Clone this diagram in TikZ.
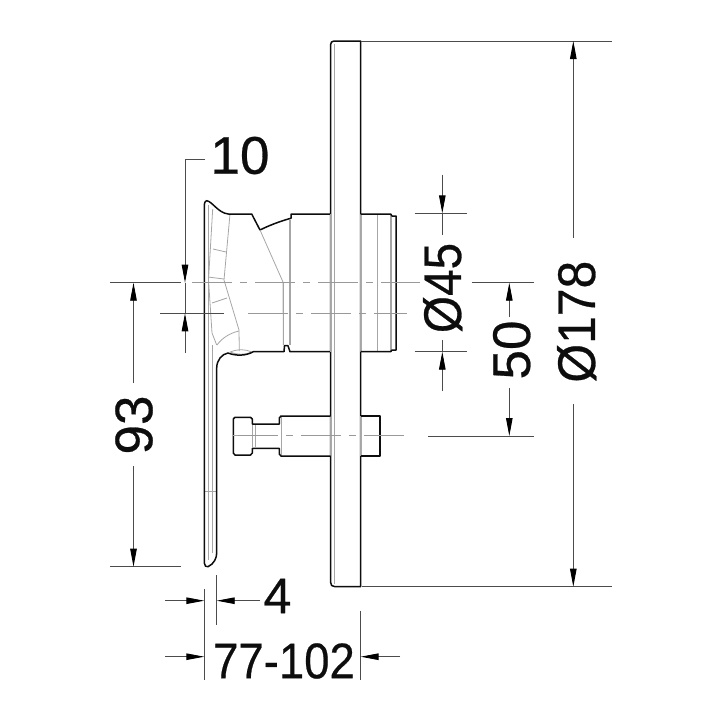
\documentclass[tikz,border=0pt]{standalone}
\usepackage{fontspec}
\setmainfont{Liberation Sans}
\newfontfamily\dimfont{Liberation Sans}[FakeBold=0.5]
\usetikzlibrary{arrows.meta}
\tikzset{
	outline/.style={line width=1.5pt, color=black!95, line join=round},
	inner/.style={line width=0.8pt, color=black!35},
	innerthick/.style={line width=1.6pt, color=black!35},
	axis/.style={line width=0.9pt, color=black!40, dash pattern=on 40pt off 8pt on 7pt off 8pt},
	extline/.style={line width=0.9pt, color=black!70},
	dimarrow/.style={line width=0.9pt, color=black!70, -{Stealth[length=18pt,width=6.5pt,inset=0pt,color=black]}},
	dimtext/.style={font=\dimfont\fontsize{53}{53}\selectfont, color=black!95, inner sep=0pt},
}
\begin{document}
\begin{tikzpicture}[x=1pt, y=-1pt]
		%%%%% START %%%%%
		\useasboundingbox (0, 0) rectangle (720, 720);
		
		% wall plate
		\draw[outline] (334, 41) -- (360.6, 41) -- (360.6, 586.7) -- (335, 586.7) .. controls (332, 586.7) and (330.5, 585) .. (330.5, 582) -- (330.5, 45) .. controls (330.5, 42.5) and (332, 41) .. cycle;
		\draw[inner] (334.5, 44) -- (334.5, 584);
		
		% handle
		\draw[inner] (208.3, 205) -- (208.3, 560);
		\draw[inner] (212.7, 209) -- (208.5, 280) -- (212, 333) -- (216.7, 345);
		\draw[inner] (212.7, 345) -- (212.7, 553);
		\draw[inner] (230, 214) -- (224, 280) -- (239, 330) -- (239.3, 351);
		\draw[inner] (213, 249) -- (226, 252);
		\draw[inner] (208, 277) -- (224, 279);
		\draw[inner] (212, 303) -- (227, 298);
		\draw[inner] (217, 345) .. controls (222, 338) and (230, 333) .. (239, 331);
		\draw[inner] (204.3, 491) -- (216.7, 491);
		\draw[inner] (230, 352) .. controls (238, 349) and (245, 349) .. (252, 352) .. controls (245, 355) and (237, 355) .. (230, 352);
		\draw[outline] (216.7, 553) -- (216.7, 368) .. controls (216.7, 360) and (222, 354) .. (228, 353) .. controls (236, 356) and (246, 356) .. (253.3, 351.7) -- (284, 351.7) -- (284.5, 345.7) -- (288, 345.7) -- (290, 351.7) -- (330.5, 351.7);
		\draw[outline] (330.5, 214) -- (291, 214) -- (291, 218.3) -- (288.3, 219) .. controls (278, 222) and (268, 226) .. (260, 230) -- (251.7, 214) -- (228.3, 214) .. controls (218, 213) and (212, 201) .. (206.5, 200.7) .. controls (205, 201) and (204.3, 203) .. (204.3, 205) -- (204.3, 563) .. controls (204.5, 566) and (206, 567) .. (208, 566.7) .. controls (214, 564) and (216.7, 558) .. (216.7, 553);
		
		% body
		\draw[inner] (260, 230) -- (283, 282) -- (283.3, 345);
		\draw[innerthick] (290, 220) -- (290, 345);
		\draw[innerthick] (283.3, 282) -- (283.3, 345);
		\draw[inner] (330.5, 214) -- (330.5, 351.7);
		\draw[inner] (334.5, 214) -- (334.5, 351.7);
		\draw[inner] (360.6, 214) -- (360.6, 351.7);
		\draw[inner] (377.3, 214) -- (377.3, 351.7);
		\draw[innerthick] (390.7, 214) -- (390.7, 351.7);
		\draw[outline] (360.6, 214) -- (390.7, 214) -- (392, 216) -- (396, 216) -- (396, 350) -- (392, 350) -- (390.7, 351.7) -- (360.6, 351.7);
		
		% stud
		\draw[innerthick] (252.5, 425) -- (252.5, 447);
		\draw[inner] (255, 425) -- (255, 447);
		\draw[inner] (281.7, 417) -- (281.7, 455);
		\draw[inner] (330.5, 416) -- (330.5, 456);
		\draw[inner] (334.5, 416) -- (334.5, 456);
		\draw[inner] (360.6, 416) -- (360.6, 456);
		\draw[outline] (330.5, 416) -- (281, 416) -- (279.3, 418) -- (279.3, 424) -- (252.3, 424) -- (252.3, 419) -- (250.5, 417.3) -- (235, 417.3) -- (233.3, 419) -- (233.3, 453) -- (235, 455) -- (250.5, 455) -- (252.3, 453) -- (252.3, 448.3) -- (279.3, 448.3) -- (279.3, 454) -- (281, 456) -- (330.5, 456);
		\draw[outline] (360.6, 416) -- (380, 416) -- (380, 456) -- (360.6, 456);
		
		% centre lines
		\draw[axis] (192, 282.7) -- (420, 282.7);
		\draw[axis] (248, 313.3) -- (407, 313.3);
		\draw[inner] (233, 435.7) -- (238, 435.7);
		\draw[axis] (238, 435.7) -- (405, 435.7);
		
		% extension lines
		\draw[extline] (110, 282.7) -- (181, 282.7);
		\draw[extline] (160, 313.3) -- (224, 313.3);
		\draw[extline] (110, 566.7) -- (181, 566.7);
		\draw[extline] (360.6, 41) -- (612, 41);
		\draw[extline] (362, 586.7) -- (612, 586.7);
		\draw[extline] (414.7, 213.3) -- (466.7, 213.3);
		\draw[extline] (414.7, 351.7) -- (466.7, 351.7);
		\draw[extline] (471.7, 282.7) -- (534, 282.7);
		\draw[extline] (428, 436) -- (534, 436);
		\draw[extline] (204.3, 589) -- (204.3, 680);
		\draw[extline] (216.7, 575) -- (216.7, 625);
		\draw[extline] (360.6, 610.7) -- (360.6, 680);
		
		% dimension 10
		\draw[dimarrow] (205, 159) -- (185, 159) -- (185, 282.7);
		\draw[extline] (185, 282.7) -- (185, 313.3);
		\draw[dimarrow] (185, 352.7) -- (185, 313.3);
		\node[dimtext] (ten) at (240, 155.5) {10};
		
		% dimension 93
		\draw[dimarrow] (133.5, 383) -- (133.5, 282.7);
		\draw[dimarrow] (133.5, 466) -- (133.5, 566.7);
		\node[dimtext, rotate=90] (ninetythree) at (134, 425) {93};
		
		% dimension 45
		\draw[dimarrow] (442.3, 174.7) -- (442.3, 213.3);
		\draw[extline] (442.3, 213.3) -- (442.3, 235);
		\draw[dimarrow] (442.3, 391) -- (442.3, 351.7);
		\draw[extline] (442.3, 351.7) -- (442.3, 340);
		\node[dimtext, rotate=90] (dia) at (442.7, 288) {\scalebox{.9}[1]{Ø45}};
		
		% dimension 50
		\draw[dimarrow] (509.3, 316.7) -- (509.3, 282.7);
		\draw[dimarrow] (509.3, 388) -- (509.3, 436);
		\node[dimtext, rotate=90] (fifty) at (511.7, 350) {50};
		
		% dimension 178
		\draw[dimarrow] (573.3, 238) -- (573.3, 41);
		\draw[dimarrow] (573.3, 404) -- (573.3, 586.7);
		\node[dimtext, rotate=90] (plate) at (576.7, 321.7) {\scalebox{.94}[1]{Ø178}};
		
		% dimension 4
		\draw[dimarrow] (165, 600.7) -- (204.3, 600.7);
		\draw[dimarrow] (260, 600.7) -- (216.7, 600.7);
		\node[dimtext, font=\dimfont\fontsize{50}{50}\selectfont] (four) at (277.5, 596) {4};
		
		% dimension 77-102
		\draw[dimarrow] (165, 656.7) -- (204.3, 656.7);
		\draw[dimarrow] (400, 656.7) -- (360.6, 656.7);
		\node[dimtext, font=\dimfont\fontsize{50}{50}\selectfont] (depth) at (284, 661) {\scalebox{.91}[1]{77-102}};
		
		%%%%% END %%%%%
	\end{tikzpicture}
\end{document}
